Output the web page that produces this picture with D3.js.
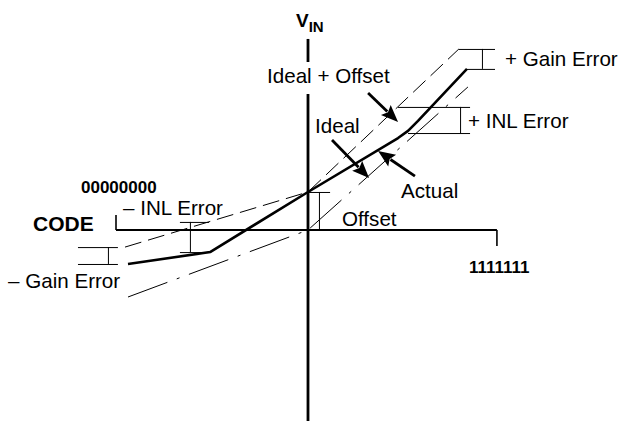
<!DOCTYPE html>
<html>
<head>
<meta charset="utf-8">
<script src="https://cdn.jsdelivr.net/npm/d3@7/dist/d3.min.js"></script>
<style>
  html, body { margin: 0; padding: 0; background: #fff; }
  svg { display: block; }
  text { font-family: "Liberation Sans", Arial, Helvetica, sans-serif; fill: #000; }
</style>
</head>
<body>
<svg id="chart" width="620" height="423"></svg>
<script>
// ---- data (in normalized CODE / VIN units, origin at 0,0) ----
const actualCode  = [-0.9375, -0.510, 0, 0.469, 0.521, 0.573, 0.828];
const actualVin   = [-0.177, -0.115, 0.198, 0.479, 0.516, 0.568, 0.839];
const offsetCode  = [-0.953, 0, 0.786];
const offsetVin   = [-0.089, 0.198, 0.943];
const idealCode   = [-0.9375, 0, 0.833];
const idealVin    = [-0.349, 0, 0.745];

// error brackets: top bar, bottom bar, vertical bar
const bracketNames   = ["+ Gain Error", "+ INL Error", "Offset", "– INL Error", "– Gain Error"];
const bracketTopX0   = [0.786, 0.469, 0, -0.667, -1.198];
const bracketTopX1   = [0.974, 0.844, 0.115, -0.516, -0.990];
const bracketTopY    = [0.943, 0.641, 0.198, 0.042, -0.089];
const bracketBotX0   = [0.828, 0.521, null, -0.667, -1.198];
const bracketBotX1   = [0.974, 0.844, null, -0.510, -0.990];
const bracketBotY    = [0.839, 0.505, 0, -0.115, -0.177];
const bracketVX      = [0.906, 0.792, 0.057, -0.615, -1.042];

// arrows (tail -> tip)
const arrowNames = ["Ideal + Offset", "Ideal", "Actual"];
const arrowX0 = [0.313, 0.125, 0.557];
const arrowY0 = [0.714, 0.469, 0.281];
const arrowX1 = [0.469, 0.318, 0.365];
const arrowY1 = [0.563, 0.271, 0.411];

// axis extents
const codeAxis = [-1, 0.984];
const vinAxisTop = [0.995, 0.875];
const vinAxisBottom = [0.708, -0.995];
const codeTicks = ["00000000", "1111111"];

// ---- drawing ----
const svg = d3.select("#chart");
const x = d3.scaleLinear().domain([-1, 1]).range([116, 500]);
const y = d3.scaleLinear().domain([-1, 1]).range([422, 38]);

const line = d3.line().x(d => x(d[0])).y(d => y(d[1]));

// ideal (dash-dot)
svg.append("path")
  .attr("d", line(d3.zip(idealCode, idealVin)))
  .attr("fill", "none").attr("stroke", "#000").attr("stroke-width", 1)
  .attr("stroke-dasharray", "42,10,3,10");

// ideal + offset (dashed)
svg.append("path")
  .attr("d", line(d3.zip(offsetCode, offsetVin)))
  .attr("fill", "none").attr("stroke", "#000").attr("stroke-width", 1)
  .attr("stroke-dasharray", "17,7");

// brackets
bracketNames.forEach((n, i) => {
  const g = svg.append("g").attr("stroke", "#000").attr("stroke-width", 1).attr("fill", "none");
  g.append("line").attr("x1", x(bracketTopX0[i])).attr("x2", x(bracketTopX1[i]))
    .attr("y1", y(bracketTopY[i]) + 0.5).attr("y2", y(bracketTopY[i]) + 0.5);
  if (bracketBotX0[i] !== null) {
    g.append("line").attr("x1", x(bracketBotX0[i])).attr("x2", x(bracketBotX1[i]))
      .attr("y1", y(bracketBotY[i]) + 0.5).attr("y2", y(bracketBotY[i]) + 0.5);
  }
  g.append("line").attr("x1", x(bracketVX[i]) + 0.5).attr("x2", x(bracketVX[i]) + 0.5)
    .attr("y1", y(bracketTopY[i])).attr("y2", y(bracketBotY[i]));
});

// axes
svg.append("line").attr("x1", x(codeAxis[0])).attr("x2", x(codeAxis[1]))
  .attr("y1", y(0)).attr("y2", y(0)).attr("stroke", "#000").attr("stroke-width", 2.2);
svg.append("line").attr("x1", x(codeAxis[0])).attr("x2", x(codeAxis[0]))
  .attr("y1", y(0)).attr("y2", y(0.078)).attr("stroke", "#000").attr("stroke-width", 1.6);
svg.append("line").attr("x1", x(codeAxis[1])).attr("x2", x(codeAxis[1]))
  .attr("y1", y(0)).attr("y2", y(-0.083)).attr("stroke", "#000").attr("stroke-width", 1.6);
[vinAxisTop, vinAxisBottom].forEach(seg => {
  svg.append("line").attr("x1", x(0)).attr("x2", x(0))
    .attr("y1", y(seg[0])).attr("y2", y(seg[1])).attr("stroke", "#000").attr("stroke-width", 2.8);
});

// actual (thick)
svg.append("path")
  .attr("d", line(d3.zip(actualCode, actualVin)))
  .attr("fill", "none").attr("stroke", "#000").attr("stroke-width", 2.6)
  .attr("stroke-linejoin", "round");

// arrows
arrowNames.forEach((n, i) => {
  const x0 = x(arrowX0[i]), y0 = y(arrowY0[i]), x1 = x(arrowX1[i]), y1 = y(arrowY1[i]);
  const a = Math.atan2(y1 - y0, x1 - x0);
  const L = 17, W = 7;
  const bx = x1 - L * Math.cos(a), by = y1 - L * Math.sin(a);
  svg.append("line").attr("x1", x0).attr("y1", y0).attr("x2", bx + 2 * Math.cos(a)).attr("y2", by + 2 * Math.sin(a))
    .attr("stroke", "#000").attr("stroke-width", 2.8);
  const pts = [[x1, y1],
    [bx - W * Math.sin(a), by + W * Math.cos(a)],
    [bx + 3 * Math.cos(a), by + 3 * Math.sin(a)],
    [bx + W * Math.sin(a), by - W * Math.cos(a)]];
  svg.append("path").attr("d", "M" + pts.map(p => p.join(",")).join("L") + "Z").attr("fill", "#000");
});

// texts
function txt(s, px, py, size, bold) {
  return svg.append("text").attr("x", px).attr("y", py)
    .attr("font-size", size).attr("font-weight", bold ? "bold" : "normal").text(s);
}
const vin = svg.append("text").attr("x", 296).attr("y", 27).attr("font-weight", "bold").attr("font-size", 19);
vin.append("tspan").text("V");
vin.append("tspan").attr("font-size", 15).attr("dy", 5).text("IN");

txt("Ideal + Offset", 267, 83, 20.6, false);
txt(bracketNames[0], 505, 66, 20.6, false);
txt(bracketNames[1], 468, 128, 20.6, false);
txt("Ideal", 315, 133, 20.6, false);
txt("Actual", 401, 198, 20.6, false);
txt(bracketNames[2], 342, 226, 20.6, false);
txt("CODE", 33, 231, 21, true);
txt(codeTicks[0], 81, 193, 17, true);
txt(codeTicks[1], 469, 273, 17, true);
txt(bracketNames[3], 123, 215, 20.6, false);
txt(bracketNames[4], 8, 288, 20.6, false);
</script>
</body>
</html>
